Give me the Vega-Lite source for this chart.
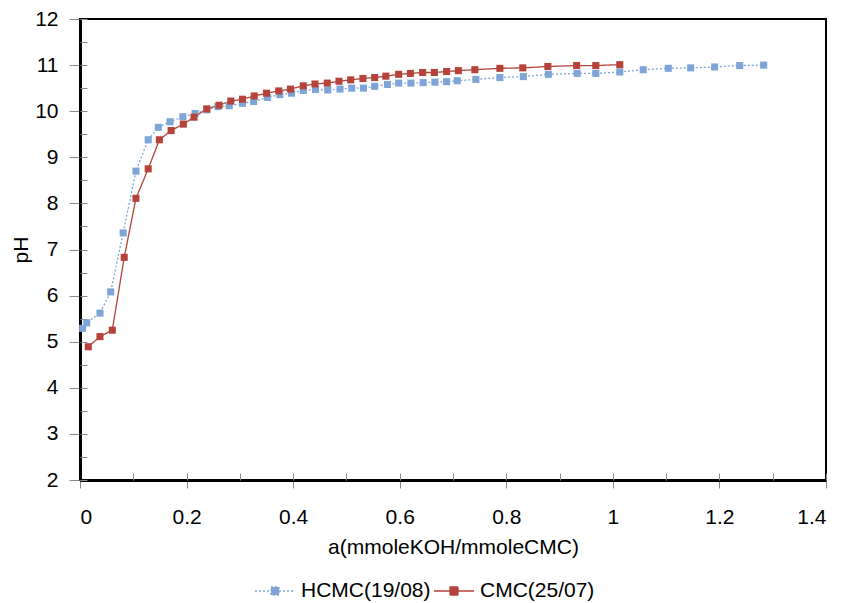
{
  "$schema": "https://vega.github.io/schema/vega-lite/v6.json",
  "width": 746,
  "height": 461,
  "autosize": {"type": "none"},
  "padding": {"left": 80, "top": 19, "right": 15, "bottom": 123},
  "background": "white",
  "config": {
    "font": "Liberation Sans",
    "view": {"stroke": "black", "strokeWidth": 2}
  },
  "data": {
    "values": [
      {"s": "HCMC(19/08)", "x": 0.005, "pH": 5.29},
      {"s": "HCMC(19/08)", "x": 0.0126, "pH": 5.41},
      {"s": "HCMC(19/08)", "x": 0.0375, "pH": 5.62},
      {"s": "HCMC(19/08)", "x": 0.0576, "pH": 6.08},
      {"s": "HCMC(19/08)", "x": 0.081, "pH": 7.36},
      {"s": "HCMC(19/08)", "x": 0.105, "pH": 8.7},
      {"s": "HCMC(19/08)", "x": 0.128, "pH": 9.38},
      {"s": "HCMC(19/08)", "x": 0.147, "pH": 9.65},
      {"s": "HCMC(19/08)", "x": 0.169, "pH": 9.77},
      {"s": "HCMC(19/08)", "x": 0.193, "pH": 9.88},
      {"s": "HCMC(19/08)", "x": 0.216, "pH": 9.95},
      {"s": "HCMC(19/08)", "x": 0.238, "pH": 10.03},
      {"s": "HCMC(19/08)", "x": 0.259, "pH": 10.1},
      {"s": "HCMC(19/08)", "x": 0.28, "pH": 10.12},
      {"s": "HCMC(19/08)", "x": 0.305, "pH": 10.17},
      {"s": "HCMC(19/08)", "x": 0.326, "pH": 10.21},
      {"s": "HCMC(19/08)", "x": 0.352, "pH": 10.3},
      {"s": "HCMC(19/08)", "x": 0.375, "pH": 10.36},
      {"s": "HCMC(19/08)", "x": 0.397, "pH": 10.39},
      {"s": "HCMC(19/08)", "x": 0.419, "pH": 10.45},
      {"s": "HCMC(19/08)", "x": 0.442, "pH": 10.47},
      {"s": "HCMC(19/08)", "x": 0.465, "pH": 10.46},
      {"s": "HCMC(19/08)", "x": 0.488, "pH": 10.48},
      {"s": "HCMC(19/08)", "x": 0.51, "pH": 10.5},
      {"s": "HCMC(19/08)", "x": 0.532, "pH": 10.5},
      {"s": "HCMC(19/08)", "x": 0.553, "pH": 10.54},
      {"s": "HCMC(19/08)", "x": 0.577, "pH": 10.58},
      {"s": "HCMC(19/08)", "x": 0.598, "pH": 10.61},
      {"s": "HCMC(19/08)", "x": 0.621, "pH": 10.61},
      {"s": "HCMC(19/08)", "x": 0.644, "pH": 10.62},
      {"s": "HCMC(19/08)", "x": 0.666, "pH": 10.63},
      {"s": "HCMC(19/08)", "x": 0.688, "pH": 10.64},
      {"s": "HCMC(19/08)", "x": 0.708, "pH": 10.66},
      {"s": "HCMC(19/08)", "x": 0.743, "pH": 10.69},
      {"s": "HCMC(19/08)", "x": 0.788, "pH": 10.73},
      {"s": "HCMC(19/08)", "x": 0.832, "pH": 10.75},
      {"s": "HCMC(19/08)", "x": 0.879, "pH": 10.8},
      {"s": "HCMC(19/08)", "x": 0.933, "pH": 10.82},
      {"s": "HCMC(19/08)", "x": 0.968, "pH": 10.82},
      {"s": "HCMC(19/08)", "x": 1.013, "pH": 10.85},
      {"s": "HCMC(19/08)", "x": 1.057, "pH": 10.9},
      {"s": "HCMC(19/08)", "x": 1.104, "pH": 10.93},
      {"s": "HCMC(19/08)", "x": 1.146, "pH": 10.94},
      {"s": "HCMC(19/08)", "x": 1.191, "pH": 10.96},
      {"s": "HCMC(19/08)", "x": 1.238, "pH": 10.99},
      {"s": "HCMC(19/08)", "x": 1.283, "pH": 11.0},
      {"s": "CMC(25/07)", "x": 0.0156, "pH": 4.89},
      {"s": "CMC(25/07)", "x": 0.0375, "pH": 5.11},
      {"s": "CMC(25/07)", "x": 0.0606, "pH": 5.25},
      {"s": "CMC(25/07)", "x": 0.083, "pH": 6.83},
      {"s": "CMC(25/07)", "x": 0.105, "pH": 8.11},
      {"s": "CMC(25/07)", "x": 0.128, "pH": 8.75},
      {"s": "CMC(25/07)", "x": 0.149, "pH": 9.38},
      {"s": "CMC(25/07)", "x": 0.171, "pH": 9.58},
      {"s": "CMC(25/07)", "x": 0.194, "pH": 9.72},
      {"s": "CMC(25/07)", "x": 0.214, "pH": 9.87},
      {"s": "CMC(25/07)", "x": 0.238, "pH": 10.05},
      {"s": "CMC(25/07)", "x": 0.261, "pH": 10.13},
      {"s": "CMC(25/07)", "x": 0.283, "pH": 10.22},
      {"s": "CMC(25/07)", "x": 0.305, "pH": 10.26},
      {"s": "CMC(25/07)", "x": 0.327, "pH": 10.33},
      {"s": "CMC(25/07)", "x": 0.35, "pH": 10.39},
      {"s": "CMC(25/07)", "x": 0.373, "pH": 10.44},
      {"s": "CMC(25/07)", "x": 0.395, "pH": 10.48},
      {"s": "CMC(25/07)", "x": 0.419, "pH": 10.55},
      {"s": "CMC(25/07)", "x": 0.441, "pH": 10.59},
      {"s": "CMC(25/07)", "x": 0.464, "pH": 10.61},
      {"s": "CMC(25/07)", "x": 0.486, "pH": 10.65},
      {"s": "CMC(25/07)", "x": 0.508, "pH": 10.68},
      {"s": "CMC(25/07)", "x": 0.531, "pH": 10.71},
      {"s": "CMC(25/07)", "x": 0.553, "pH": 10.73},
      {"s": "CMC(25/07)", "x": 0.574, "pH": 10.76},
      {"s": "CMC(25/07)", "x": 0.598, "pH": 10.8},
      {"s": "CMC(25/07)", "x": 0.62, "pH": 10.82},
      {"s": "CMC(25/07)", "x": 0.643, "pH": 10.84},
      {"s": "CMC(25/07)", "x": 0.665, "pH": 10.84},
      {"s": "CMC(25/07)", "x": 0.688, "pH": 10.86},
      {"s": "CMC(25/07)", "x": 0.71, "pH": 10.88},
      {"s": "CMC(25/07)", "x": 0.741, "pH": 10.9},
      {"s": "CMC(25/07)", "x": 0.788, "pH": 10.93},
      {"s": "CMC(25/07)", "x": 0.831, "pH": 10.94},
      {"s": "CMC(25/07)", "x": 0.878, "pH": 10.97},
      {"s": "CMC(25/07)", "x": 0.932, "pH": 10.99},
      {"s": "CMC(25/07)", "x": 0.968, "pH": 10.99},
      {"s": "CMC(25/07)", "x": 1.013, "pH": 11.01}
    ]
  },
  "layer": [
    {
      "mark": {"type": "line", "strokeWidth": 1.3},
      "encoding": {
        "x": {
          "field": "x", "type": "quantitative",
          "scale": {"domain": [0, 1.4], "nice": false, "zero": false},
          "axis": {
            "values": [0, 0.2, 0.4, 0.6, 0.8, 1, 1.2, 1.4],
            "format": "~g",
            "title": "a(mmoleKOH/mmoleCMC)",
            "titleFontSize": 21, "titleFontWeight": "normal", "titleColor": "black", "titlePadding": 9,
            "labelFontSize": 21, "labelColor": "black", "labelPadding": 18,
            "tickSize": 8, "tickColor": "#888", "tickWidth": 1,
            "domainColor": "black", "domainWidth": 3, "grid": false
          }
        },
        "y": {
          "field": "pH", "type": "quantitative",
          "scale": {"domain": [2, 12], "nice": false, "zero": false},
          "axis": {
            "values": [2, 3, 4, 5, 6, 7, 8, 9, 10, 11, 12],
            "title": "pH",
            "titleFontSize": 21, "titleFontWeight": "normal", "titleColor": "black", "titlePadding": 3,
            "labelFontSize": 21, "labelColor": "black", "labelPadding": 11,
            "tickSize": 11, "tickColor": "#888", "tickWidth": 1,
            "domainColor": "black", "domainWidth": 3, "grid": false
          }
        },
        "color": {
          "field": "s", "type": "nominal",
          "scale": {"domain": ["HCMC(19/08)", "CMC(25/07)"], "range": ["#7ea4d8", "#b5433a"]},
          "legend": {
            "orient": "none", "direction": "horizontal", "legendX": 174, "legendY": 551,
            "title": null,
            "labelFontSize": 21, "labelColor": "black", "labelOffset": 5,
            "symbolType": "M-1,0H-0.2M0.2,0H1M-0.2,-0.2H0.2V0.2H-0.2Z",
            "symbolSize": 1600, "symbolStrokeWidth": 1.3, "columnPadding": 0
          }
        },
        "strokeDash": {
          "field": "s", "type": "nominal",
          "scale": {"domain": ["HCMC(19/08)", "CMC(25/07)"], "range": [[2, 2], [1, 0]]},
          "legend": {
            "orient": "none", "direction": "horizontal", "legendX": 174, "legendY": 551,
            "title": null,
            "labelFontSize": 21, "labelColor": "black", "labelOffset": 5,
            "symbolType": "M-1,0H-0.2M0.2,0H1M-0.2,-0.2H0.2V0.2H-0.2Z",
            "symbolSize": 1600, "symbolStrokeWidth": 1.3, "columnPadding": 0
          }
        }
      }
    },
    {
      "mark": {"type": "point", "shape": "square", "filled": true, "size": 50, "opacity": 1, "stroke": null},
      "encoding": {
        "x": {
          "field": "x", "type": "quantitative",
          "axis": {
            "orient": "top", "offset": -461,
            "values": [0, 0.1, 0.2, 0.3, 0.4, 0.5, 0.6, 0.7, 0.8, 0.9, 1, 1.1, 1.2, 1.3, 1.4],
            "labels": false, "domain": false, "title": null, "grid": false,
            "tickSize": 7, "tickColor": "#888", "tickWidth": 1
          }
        },
        "y": {
          "field": "pH", "type": "quantitative",
          "axis": {
            "orient": "right", "offset": -746,
            "values": [2, 2.5, 3, 3.5, 4, 4.5, 5, 5.5, 6, 6.5, 7, 7.5, 8, 8.5, 9, 9.5, 10, 10.5, 11, 11.5, 12],
            "labels": false, "domain": false, "title": null, "grid": false,
            "tickSize": 7, "tickColor": "#888", "tickWidth": 1
          }
        },
        "color": {"field": "s", "type": "nominal"}
      }
    }
  ],
  "resolve": {"axis": {"x": "independent", "y": "independent"}}
}
